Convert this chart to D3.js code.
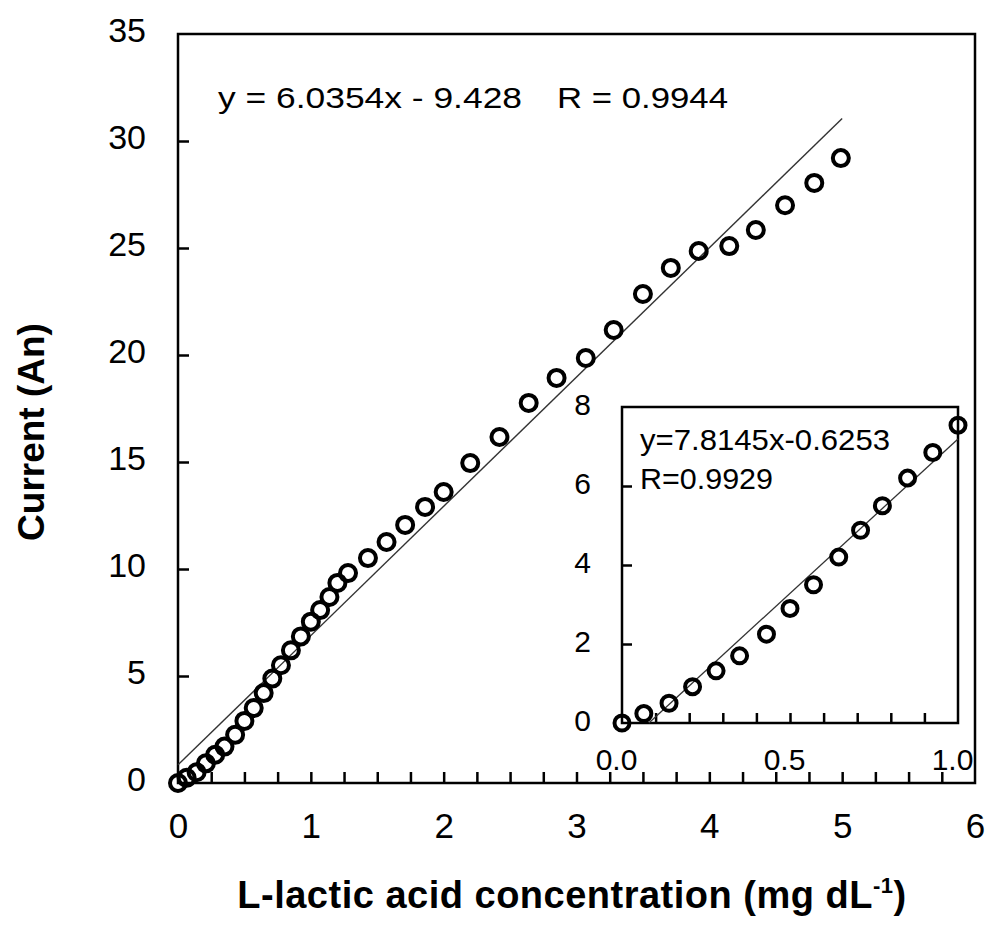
<!DOCTYPE html>
<html>
<head>
<meta charset="utf-8">
<script src="https://cdn.jsdelivr.net/npm/d3@7"></script>
<style>
  body { margin: 0; background: #fff; }
  text { font-family: "Liberation Sans", Arial, sans-serif; fill: #000; }
</style>
</head>
<body>
<svg id="chart" width="1000" height="927"></svg>
<script>
// values: concentration (mg dL-1) and current (An)
const concentration = [0, 0.065, 0.14, 0.21, 0.28, 0.35, 0.43, 0.5, 0.57, 0.645, 0.71, 0.775, 0.85, 0.925, 1.0,
  1.07, 1.14, 1.2, 1.28, 1.43, 1.57, 1.71, 1.86, 2.0, 2.2, 2.42, 2.64, 2.85, 3.07, 3.28, 3.5, 3.71, 3.92,
  4.15, 4.35, 4.57, 4.79, 4.99];
const current = [0, 0.24, 0.5, 0.92, 1.32, 1.7, 2.25, 2.9, 3.5, 4.2, 4.88, 5.5, 6.2, 6.85, 7.54,
  8.08, 8.69, 9.35, 9.81, 10.51, 11.26, 12.06, 12.9, 13.6, 14.95, 16.17, 17.76, 18.93, 19.86, 21.17, 22.85,
  24.07, 24.86, 25.09, 25.84, 27.0, 28.04, 29.2];
// the inset shows the first points only (0 - 1 mg dL-1)
const insetCount = 15;

// trend line end points
const fitX = [0, 5.0];
const fitY = [0.85, 31.05];
const insetFitX = [0.08, 1.0];
const insetFitY = [0, 7.19];

// ticks and labels
const xLabels = [0, 1, 2, 3, 4, 5, 6];
const xTicks = d3.range(0.25, 6, 0.25);
const yLabels = [0, 5, 10, 15, 20, 25, 30, 35];
const yTicks = [5, 10, 15, 20, 25, 30];
const insetXLabels = [0, 0.5, 1.0];
const insetXTicks = [0.1, 0.2, 0.3, 0.4, 0.5, 0.6, 0.7, 0.8, 0.9];
const insetYLabels = [0, 2, 4, 6, 8];
const insetYTicks = [2, 4, 6];

const mainEq = "y = 6.0354x - 9.428";
const mainR = "R = 0.9944";
const insetEq = "y=7.8145x-0.6253";
const insetR = "R=0.9929";

const svg = d3.select("#chart");

const x = d3.scaleLinear().domain([0, 6]).range([178, 975]);
const y = d3.scaleLinear().domain([0, 35]).range([783, 34]);
const ix = d3.scaleLinear().domain([0, 1]).range([622, 958]);
const iy = d3.scaleLinear().domain([0, 8]).range([723, 407]);

function styleAxis(g, size) {
  g.select(".domain").remove();
  g.selectAll("line").attr("stroke", "#000").attr("stroke-width", 2.5);
  g.selectAll("text").attr("font-size", size).attr("fill", "#000");
}

// main frame
svg.append("rect")
  .attr("x", x(0)).attr("y", y(35))
  .attr("width", x(6) - x(0)).attr("height", y(0) - y(35))
  .attr("fill", "none").attr("stroke", "#000").attr("stroke-width", 2.5);

// main y axis
svg.append("g").attr("transform", `translate(${x(0)},0)`)
  .call(d3.axisLeft(y).tickValues(yTicks).tickSizeInner(-11).tickSizeOuter(0).tickFormat(""))
  .call((g) => styleAxis(g, 34));
svg.append("g").attr("transform", `translate(${x(0)},-3)`)
  .call(d3.axisLeft(y).tickValues(yLabels).tickSize(0).tickPadding(32).tickFormat(d3.format("d")))
  .call((g) => styleAxis(g, 34));

// main x axis
svg.append("g").attr("transform", `translate(0,${y(0)})`)
  .call(d3.axisBottom(x).tickValues(xTicks).tickSizeInner(-11).tickSizeOuter(0).tickFormat(""))
  .call((g) => styleAxis(g, 34));
svg.append("g").attr("transform", `translate(0,${y(0)})`)
  .call(d3.axisBottom(x).tickValues(xLabels).tickSize(0).tickPadding(30).tickFormat(d3.format("d")))
  .call((g) => styleAxis(g, 35));

// main trend line
const mainLine = d3.line().x((d) => x(d[0])).y((d) => y(d[1]));
svg.append("path")
  .attr("d", mainLine(d3.zip(fitX, fitY)))
  .attr("fill", "none").attr("stroke", "#333").attr("stroke-width", 1.4);

// main points
svg.append("g").selectAll("circle")
  .data(d3.zip(concentration, current))
  .join("circle")
  .attr("cx", (d) => x(d[0])).attr("cy", (d) => y(d[1]))
  .attr("r", 8)
  .attr("fill", "none").attr("stroke", "#000").attr("stroke-width", 4);

// main equation
svg.append("text").attr("x", 218).attr("y", 108).attr("font-size", 30)
  .attr("textLength", 304).attr("lengthAdjust", "spacingAndGlyphs").text(mainEq);
svg.append("text").attr("x", 557).attr("y", 108).attr("font-size", 30)
  .attr("textLength", 171).attr("lengthAdjust", "spacingAndGlyphs").text(mainR);

// inset
const inset = svg.append("g");
inset.append("rect")
  .attr("x", ix(0)).attr("y", iy(8))
  .attr("width", ix(1) - ix(0)).attr("height", iy(0) - iy(8))
  .attr("fill", "#fff").attr("stroke", "#000").attr("stroke-width", 2.5);

inset.append("g").attr("transform", `translate(${ix(0)},0)`)
  .call(d3.axisLeft(iy).tickValues(insetYTicks).tickSizeInner(-10).tickSizeOuter(0).tickFormat(""))
  .call((g) => styleAxis(g, 30));
inset.append("g").attr("transform", `translate(${ix(0)},-2)`)
  .call(d3.axisLeft(iy).tickValues(insetYLabels).tickSize(0).tickPadding(31).tickFormat(d3.format("d")))
  .call((g) => styleAxis(g, 30));

inset.append("g").attr("transform", `translate(0,${iy(0)})`)
  .call(d3.axisBottom(ix).tickValues(insetXTicks).tickSizeInner(-10).tickSizeOuter(0).tickFormat(""))
  .call((g) => styleAxis(g, 30));
inset.append("g").attr("transform", `translate(-6,${iy(0)})`)
  .call(d3.axisBottom(ix).tickValues(insetXLabels).tickSize(0).tickPadding(26).tickFormat(d3.format(".1f")))
  .call((g) => styleAxis(g, 30));

const insetLine = d3.line().x((d) => ix(d[0])).y((d) => iy(d[1]));
inset.append("path")
  .attr("d", insetLine(d3.zip(insetFitX, insetFitY)))
  .attr("fill", "none").attr("stroke", "#333").attr("stroke-width", 1.3);

inset.append("g").selectAll("circle")
  .data(d3.zip(concentration, current).slice(0, insetCount))
  .join("circle")
  .attr("cx", (d) => ix(d[0])).attr("cy", (d) => iy(d[1]))
  .attr("r", 7.5)
  .attr("fill", "none").attr("stroke", "#000").attr("stroke-width", 4);

inset.append("text").attr("x", 640).attr("y", 450).attr("font-size", 30)
  .attr("textLength", 250).attr("lengthAdjust", "spacingAndGlyphs").text(insetEq);
inset.append("text").attr("x", 640).attr("y", 489).attr("font-size", 30)
  .attr("textLength", 133).attr("lengthAdjust", "spacingAndGlyphs").text(insetR);

// axis titles
svg.append("text")
  .attr("transform", "translate(44,432) rotate(-90)")
  .attr("text-anchor", "middle")
  .attr("font-size", 37).attr("font-weight", "bold")
  .text("Current (An)");

const xTitle = svg.append("text")
  .attr("x", 572).attr("y", 908)
  .attr("text-anchor", "middle")
  .attr("font-size", 38).attr("font-weight", "bold")
  .attr("letter-spacing", 0.5);
xTitle.append("tspan").text("L-lactic acid concentration (mg dL");
xTitle.append("tspan").attr("font-size", 22).attr("dy", -15).text("-1");
xTitle.append("tspan").attr("dy", 15).text(")");
</script>
</body>
</html>
